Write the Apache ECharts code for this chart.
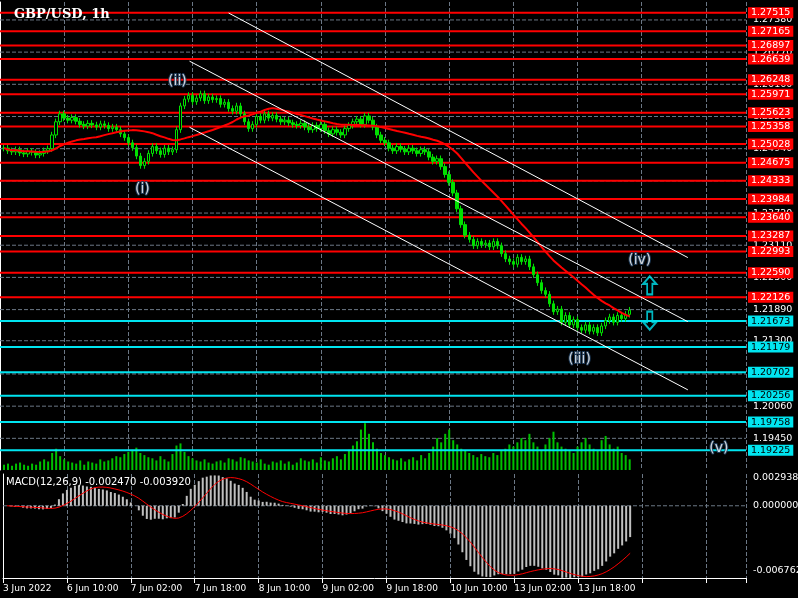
<!DOCTYPE html>
<html><head><meta charset="utf-8">
<script src="https://cdn.jsdelivr.net/npm/echarts@6/dist/echarts.min.js"></script>
<style>html,body{margin:0;background:#000}#c{width:798px;height:598px}</style></head>
<body><div id="c"></div>
<script>
const timeLabels=['3 Jun 2022','6 Jun 10:00','7 Jun 02:00','7 Jun 18:00','8 Jun 10:00','9 Jun 02:00','9 Jun 18:00','10 Jun 10:00','13 Jun 02:00','13 Jun 18:00'];
const closes=[1.2495,1.2490,1.2488,1.2492,1.2486,1.2484,1.2489,1.2487,1.2482,1.2485,1.2490,1.2494,
1.2520,1.2545,1.2560,1.2552,1.2548,
1.2553,1.2546,1.2540,1.2537,1.2542,1.2539,1.2535,1.2541,1.2538,1.2532,1.2535,1.2530,1.2522,1.2515,
1.2505,1.2496,1.2480,1.2462,1.2470,1.2485,
1.2498,1.2490,1.2483,1.2495,1.2488,1.2492,1.2530,
1.2575,1.2588,1.2595,
1.2583,1.2590,1.2598,1.2585,1.2592,1.2587,1.2589,1.2578,1.2582,1.2570,1.2565,1.2575,1.2560,1.2545,
1.2532,1.2540,1.2555,1.2548,1.2560,1.2552,1.2557,1.2550,1.2545,1.2548,1.2543,1.2540,1.2538,1.2542,
1.2535,1.2530,1.2538,1.2532,1.2540,1.2528,1.2522,1.2530,1.2525,1.2520,1.2532,1.2538,
1.2545,1.2550,1.2540,1.2556,1.2548,1.2535,1.2520,1.2510,
1.2505,1.2495,1.2490,1.2498,1.2493,1.2488,1.2495,1.2490,1.2485,1.2492,1.2488,
1.2478,1.2470,1.2475,1.2460,1.2445,1.2430,1.2410,1.2380,
1.2350,1.2330,1.2322,1.2310,1.2318,
1.2312,1.2315,1.2308,1.2318,1.2310,1.2295,1.2285,
1.2280,1.2275,1.2288,1.2280,1.2285,1.2270,
1.2255,1.2240,1.2225,1.2218,1.2200,
1.2185,1.2190,1.2165,1.2178,1.2160,1.2170,1.2155,
1.2150,1.2160,1.2148,1.2155,1.2145,1.2158,1.2168,
1.2175,1.2165,1.2178,1.2172,1.2180,1.2188];
const volumes=[5,6,4,6,7,5,4,6,5,8,10,8,16,20,13,10,8,7,6,9,5,8,7,6,10,8,9,11,13,12,15,17,19,21,16,14,12,11,9,13,10,8,15,23,25,17,13,11,9,8,10,7,6,8,9,7,11,10,8,12,11,9,8,7,10,6,5,8,7,9,6,8,5,7,11,9,8,10,7,12,9,8,11,13,10,15,19,23,27,38,44,34,26,20,16,14,12,10,9,11,8,10,12,9,14,11,16,22,30,26,34,38,28,24,20,18,16,14,12,15,13,12,16,14,18,20,24,22,26,30,28,34,26,22,18,24,30,36,26,22,20,18,16,22,26,30,24,20,18,28,32,24,20,22,16,14,10];
const redLevels=[1.27515,1.27165,1.26897,1.26639,1.26248,1.25971,1.25623,1.25358,1.25028,1.24675,1.24333,1.23984,1.23640,1.23287,1.22993,1.22590,1.22126];
const cyanLevels=[1.21673,1.21179,1.20702,1.20256,1.19758,1.19225];
const grayTicks=[1.27380,1.26770,1.26160,1.25550,1.24940,1.24330,1.23720,1.23110,1.22500,1.21890,1.21300,1.20670,1.20060,1.19450];
const macdTicks=[0.002938,0,-0.006762];
const channels=[[[57,1.27511],[171.5,1.22876]],[[47.25,1.26599],[171.5,1.21661]],[[47.25,1.25346],[171.5,1.20369]]];
const waveLabels=[['(ii)',44.25,1.26221],['(i)',35.5,1.24169],['(iii)',144.5,1.20948],['(iv)',159.5,1.22820],['(v)',179.25,1.19260]];

const candles=closes.map((c,i)=>{const o=i?closes[i-1]:c;return [i+1,o,c,Math.min(o,c)-0.0006,Math.max(o,c)+0.0006];});
const ma=closes.map((c,i)=>{const s=closes.slice(Math.max(0,i-23),i+1);return [i+1,s.reduce((a,b)=>a+b,0)/s.length];});
function ema(a,p){const k=2/(p+1);let e=a[0];return a.map(v=>e=v*k+e*(1-k));}
const e12=ema(closes,12),e26=ema(closes,26);
const macd=closes.map((c,i)=>(e12[i]-e26[i])*1.4);
const sig=macd.map((m,i)=>{const s=macd.slice(Math.max(0,i-8),i+1);return s.reduce((a,b)=>a+b,0)/s.length;});
const xMax=186;
const chart=echarts.init(document.getElementById('c'));
const hline=(v,col,w,type,lab,xi,yi,fg,bg,z)=>({type:'line',xAxisIndex:xi,yAxisIndex:yi,data:[[0,v],[xMax,v]],showSymbol:false,silent:true,z:z,
 lineStyle:{color:col,width:w,type:type},
 endLabel:{show:true,formatter:lab,color:fg,backgroundColor:bg,padding:[1,3,0,3],fontSize:9.5,fontFamily:'DejaVu Sans',distance:bg=='transparent'?4:2}});
const levelSeries=[].concat(
 grayTicks.map(v=>hline(v,'#6b7785',1,'dashed',v.toFixed(5),0,0,'#fff','transparent',1)),
 redLevels.map(v=>hline(v,'#f00',2,'solid',v.toFixed(5),0,0,'#fff','#f00',3)),
 cyanLevels.map(v=>hline(v,'#00e5f0',2,'solid',v.toFixed(5),0,0,'#000','#00e5f0',3)),
 macdTicks.map(v=>hline(v,v==0?'#6b7785':'transparent',1,'dashed',v==0?'0.000000':String(v),1,2,'#fff','transparent',1)));
chart.setOption({
backgroundColor:'#000',animation:false,
graphic:[{type:'text',left:14,top:8,z:100,style:{text:'GBP/USD, 1h',fill:'#fff',font:'bold 13px "DejaVu Serif"'}},
{type:'text',left:6,top:477,z:100,style:{text:'MACD(12,26,9) -0.002470 -0.003920',fill:'#fff',font:'10px "DejaVu Sans"'}}],
grid:[{left:0,right:52,top:2,height:468},{left:0,right:52,top:474,height:104}],
xAxis:[0,1].map(g=>({type:'value',gridIndex:g,min:0,max:xMax,interval:16,
 axisLine:{show:g==1,onZero:false,lineStyle:{color:'#fff'}},axisTick:{show:g==1,lineStyle:{color:'#fff'}},
 axisLabel:{show:g==1,color:'#fff',fontSize:9,fontFamily:'DejaVu Sans',formatter:v=>timeLabels[v/16]||'',align:'left',margin:6},
 splitLine:{show:true,lineStyle:{color:'#6b7785',type:'dashed'}}})),
yAxis:[{type:'value',gridIndex:0,min:1.1885,max:1.2772,position:'right',axisLine:{show:true,lineStyle:{color:'#fff'}},axisLabel:{show:false},axisTick:{show:false},splitLine:{show:false}},
{type:'value',gridIndex:0,min:0,max:440,show:false},
{type:'value',gridIndex:1,min:-0.0075,max:0.0033,position:'right',axisLine:{show:true,lineStyle:{color:'#fff'}},axisLabel:{show:false},axisTick:{show:false},splitLine:{show:false}}],
series:[
{type:'bar',xAxisIndex:0,yAxisIndex:1,data:volumes.map((v,i)=>[i+1,v]),barWidth:2,itemStyle:{color:'#00c000'}},
...levelSeries,
{type:'candlestick',xAxisIndex:0,yAxisIndex:0,barWidth:3,data:candles,z:4,itemStyle:{color:'#000',color0:'#00e000',borderColor:'#00e000',borderColor0:'#00e000',borderWidth:1}},
{type:'line',xAxisIndex:0,yAxisIndex:0,data:ma,showSymbol:false,lineStyle:{color:'#f00',width:2},z:5},
...channels.map(c=>({type:'line',xAxisIndex:0,yAxisIndex:0,data:c,showSymbol:false,lineStyle:{color:'#fff',width:1},z:6})),
{type:'scatter',xAxisIndex:0,yAxisIndex:0,symbolSize:0,data:waveLabels.map(w=>({value:[w[1],w[2]],label:{show:true,formatter:w[0],position:'inside',color:'#fff',fontSize:14,fontFamily:'DejaVu Sans',textBorderColor:'#246',textBorderWidth:2}})),z:8},
{type:'scatter',xAxisIndex:0,yAxisIndex:0,z:8,data:[{value:[162,1.2235],symbol:'path://M5,0 L10,5 L7,5 L7,12 L3,12 L3,5 L0,5 Z'},{value:[162,1.2168],symbol:'path://M3,0 L7,0 L7,7 L10,7 L5,12 L0,7 L3,7 Z'}],symbolSize:[13,18],itemStyle:{color:'transparent',borderColor:'#00e5f0',borderWidth:2}},
{type:'bar',xAxisIndex:1,yAxisIndex:2,data:macd.map((v,i)=>[i+1,v]),barWidth:2,itemStyle:{color:'#c0c0c0'}},
{type:'line',xAxisIndex:1,yAxisIndex:2,data:sig.map((v,i)=>[i+1,v]),showSymbol:false,lineStyle:{color:'#f00',width:1}}
]});
</script></body></html>
